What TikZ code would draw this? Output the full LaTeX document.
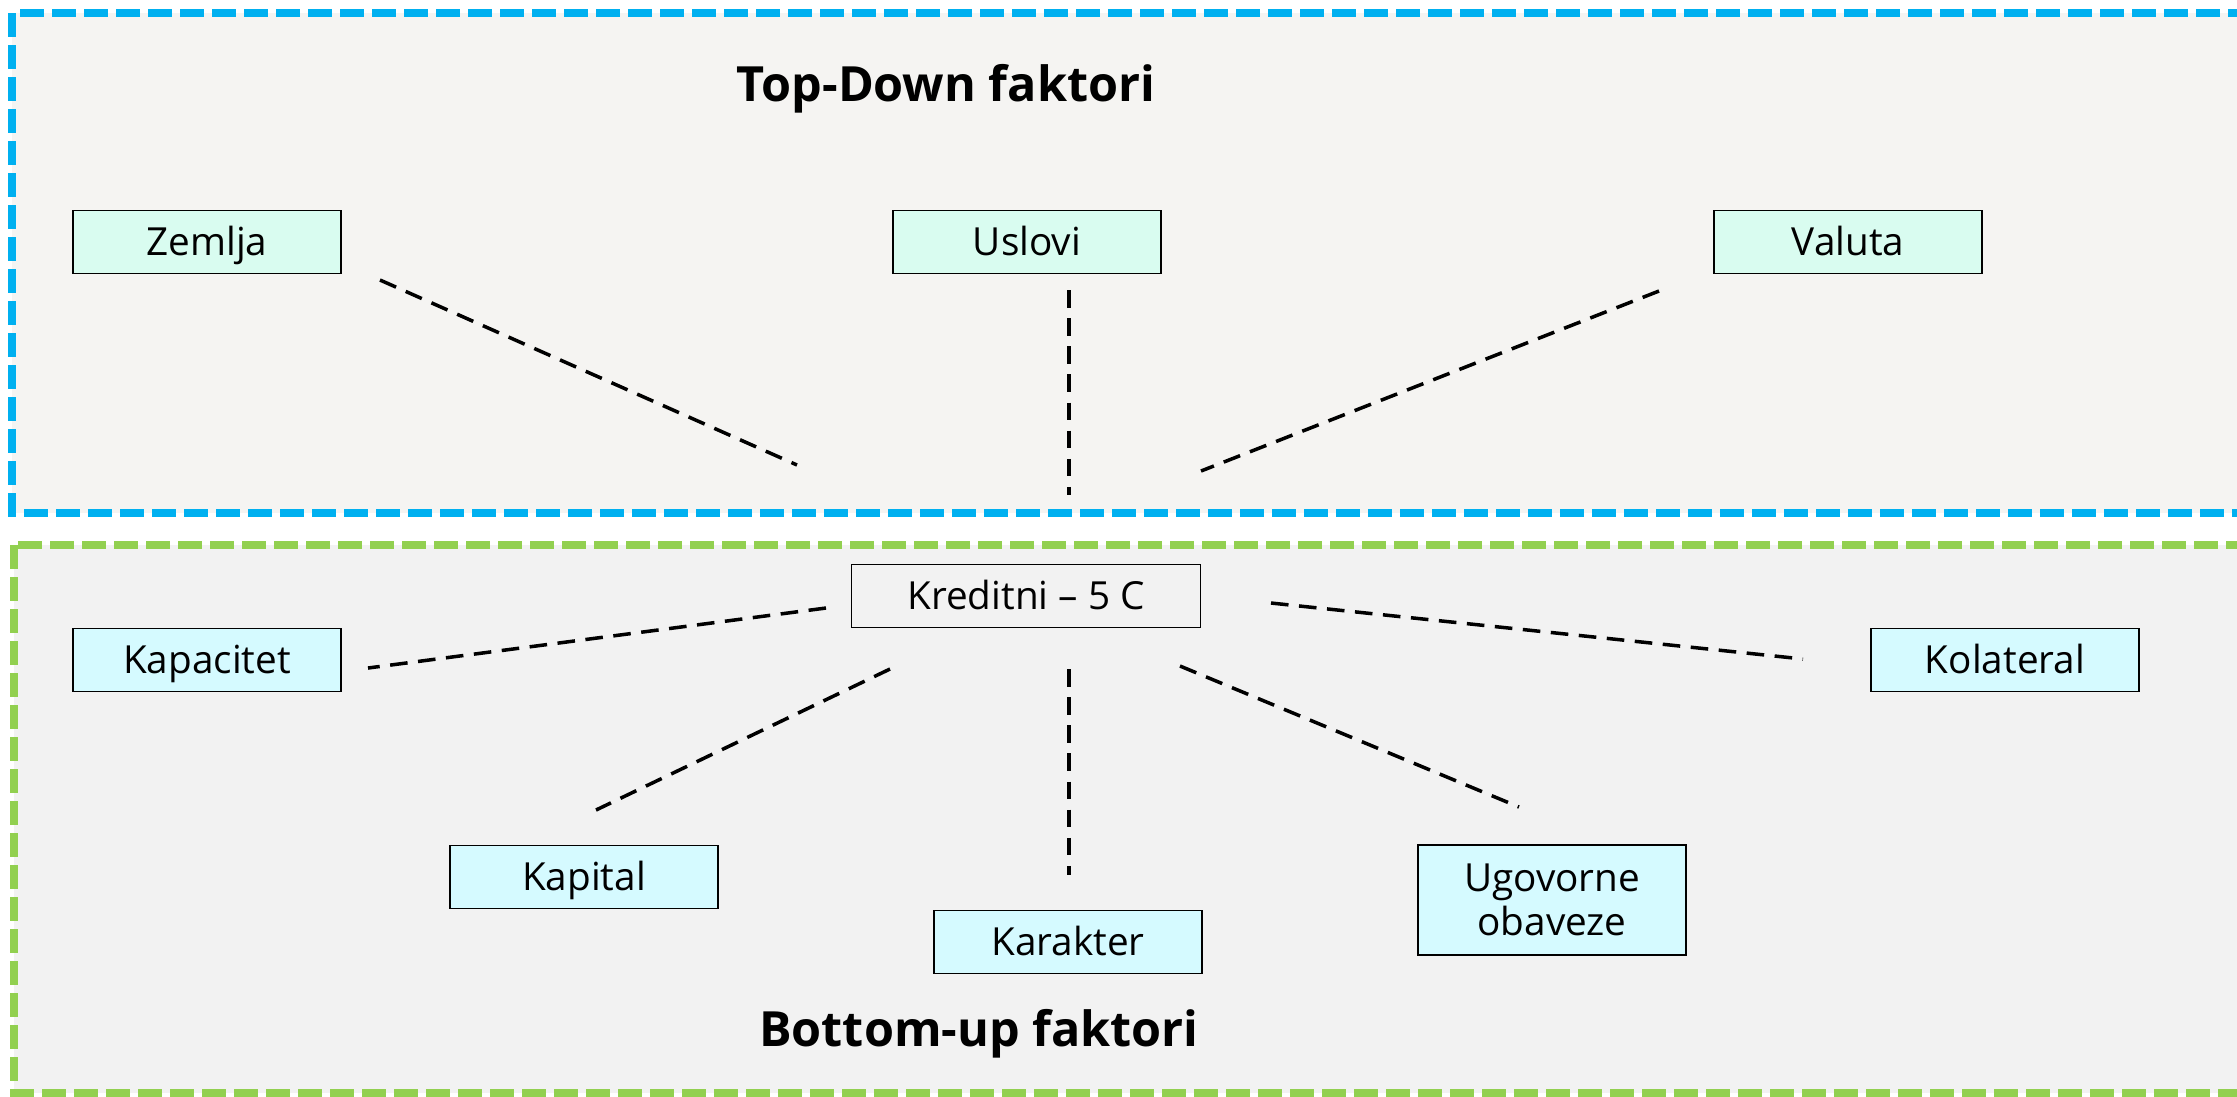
\documentclass[tikz,border=0pt]{standalone}
\usepackage{fontspec}
\setmainfont{Open Sans}
\usetikzlibrary{positioning}

\definecolor{frameblue}{RGB}{0,176,240}
\definecolor{framegreen}{RGB}{146,208,80}
\definecolor{topbg}{RGB}{245,244,242}
\definecolor{botbg}{RGB}{242,242,242}
\definecolor{mint}{RGB}{217,252,240}
\definecolor{aqua}{RGB}{213,250,255}

\begin{document}
\begin{tikzpicture}[x=0.01cm,y=-0.01cm,
    box/.style={draw,line width=0.45pt,minimum width=26.8mm,minimum height=6.3mm,
        inner sep=2pt,align=center,text height=10pt,text depth=2.3pt,
        font=\fontsize{11}{12.5}\selectfont},
    topbox/.style={box,fill=mint},
    botbox/.style={box,fill=aqua},
    title/.style={anchor=base,font=\fontsize{13.8}{16}\selectfont\bfseries},
    frame/.style={line width=2.3pt,dash pattern=on 6.8pt off 2.3pt},
    link/.style={line width=1pt,dash pattern=on 5pt off 3pt}]
    \clip (0,0) rectangle (2237,1096);
    \fill[white] (0,0) rectangle (2237,1096);
    % two zones
    \draw[frame,draw=frameblue,fill=topbg] (12,13) rectangle (2280,513);
    \draw[frame,draw=framegreen,fill=botbg] (14,545) rectangle (2280,1093);
    \node[title] (toptitle) at (946,101) {Top-Down faktori};
    \node[title] (bottitle) at (979,1046) {Bottom-up faktori};
    % top-down factors
    \node[topbox] (zemlja) at (207,242) {Zemlja};
    \node[topbox] (uslovi) at (1027,242) {Uslovi};
    \node[topbox] (valuta) at (1848,242) {Valuta};
    % credit and the 5 C
    \node[box,fill=botbg,minimum width=34.9mm] (kreditni) at (1026,596) {Kreditni -- 5 C};
    \node[botbox] (kapacitet) at (207,660) {Kapacitet};
    \node[botbox] (kolateral) at (2005,660) {Kolateral};
    \node[botbox] (kapital) at (584,877) {Kapital};
    \node[botbox] (karakter) at (1068,942) {Karakter};
    \node[botbox,minimum height=11mm,text height=,text depth=] (ugovor) at (1552,900) {Ugovorne\\obaveze};
    % dashed links
    \coordinate (z1) at (380,280);   \coordinate (z2) at (797,465);
    \coordinate (u1) at (1069,290);  \coordinate (u2) at (1069,495);
    \coordinate (v1) at (1659,291);  \coordinate (v2) at (1201,471);
    \coordinate (kc1) at (826,608);  \coordinate (kc2) at (368,668);
    \coordinate (kp1) at (890,669);  \coordinate (kp2) at (596,810);
    \coordinate (kr1) at (1069,669); \coordinate (kr2) at (1069,875);
    \coordinate (ug1) at (1180,666); \coordinate (ug2) at (1519,807);
    \coordinate (kl1) at (1271,603); \coordinate (kl2) at (1803,659);
    \foreach \a/\b in {z1/z2,u1/u2,v1/v2,kc1/kc2,kp1/kp2,kr1/kr2,ug1/ug2,kl1/kl2}
        \draw[link] (\a) -- (\b);
\end{tikzpicture}
\end{document}
